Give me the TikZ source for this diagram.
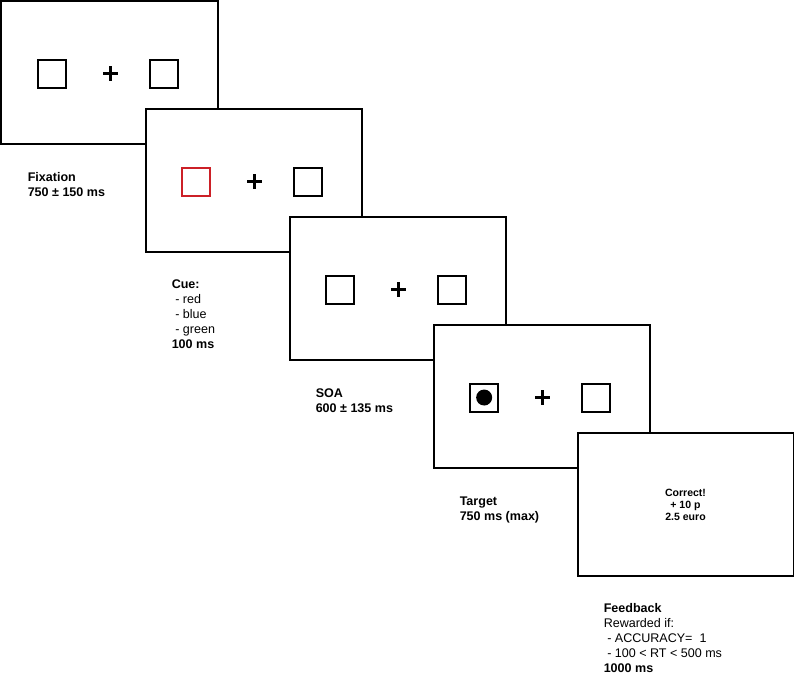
\documentclass[tikz,border=0pt]{standalone}
\usepackage{fontspec}
\setmainfont{Liberation Sans}
\usepackage{xcolor}
\usepackage{tikz}
\usetikzlibrary{positioning}

\definecolor{cuered}{RGB}{204,32,39}
\tikzset{
  screen/.style={draw,fill=white,line width=1.5pt,minimum width=162pt,minimum height=107.25pt,inner sep=0pt},
  box/.style={draw,line width=1.5pt,minimum size=21pt,inner sep=0pt},
  kreuz/.style={line width=2.5pt},
  phase/.style={anchor=base west,align=left,inner sep=0pt,font=\fontsize{9.4}{11.25}\selectfont},
}

\begin{document}
\begin{tikzpicture}[x=0.75pt,y=-0.75pt]
    \useasboundingbox (0,0) rectangle (794,673);
    % Bildschirme von links oben nach rechts unten,
    % jeder spaetere liegt ueber dem vorigen (weiss gefuellt)
    \foreach \i/\farbe in {1/black,2/cuered,3/black,4/black}{
      \node[screen] (s\i) at ({109.5+144*(\i-1)},{73+108*(\i-1)}) {};
      \node[box,draw=\farbe] (l\i) at ([xshift=-43pt,yshift=-0.4pt]s\i.center) {};
      \node[box] (r\i) at ([xshift=40.5pt,yshift=-0.4pt]s\i.center) {};
      \coordinate (c\i) at ([xshift=0.6pt,yshift=-0.4pt]s\i.center);
      \draw[kreuz] ([xshift=-5.4pt]c\i) -- ([xshift=5.4pt]c\i)
                   ([yshift=-5.4pt]c\i) -- ([yshift=5.4pt]c\i);
    }
    % Zielreiz im linken Kasten
    \fill (l4.center) circle (6pt);
    % Rueckmeldung
    \node[screen] (s5) at (685.5,505) {};
    \node[align=center,font=\fontsize{7.9}{9}\selectfont\bfseries] (fb) at (s5.center)
      {Correct!\\+ 10 p\\2.5 euro};

    % base = Grundlinie der letzten Zeile
    \node[phase] (t1) at ([xshift=20.25pt,yshift=-37.9pt]s1.south west)
      {\textbf{Fixation}\\\textbf{750 ± 150 ms}};
    \node[phase] (t2) at ([xshift=20.25pt,yshift=-71.6pt]s2.south west)
      {\textbf{Cue:}\\\hspace*{.28em}- red\\\hspace*{.28em}- blue\\\hspace*{.28em}- green\\\textbf{100 ms}};
    \node[phase] (t3) at ([xshift=20.25pt,yshift=-37.9pt]s3.south west)
      {\textbf{SOA}\\\textbf{600 ± 135 ms}};
    \node[phase] (t4) at ([xshift=20.25pt,yshift=-37.9pt]s4.south west)
      {\textbf{Target}\\\textbf{750 ms (max)}};
    \node[phase] (t5) at ([xshift=20.25pt,yshift=-71.6pt]s5.south west)
      {\textbf{Feedback}\\Rewarded if:\\\hspace*{.28em}- ACCURACY=\ \ 1\\\hspace*{.28em}- 100 < RT < 500 ms\\\textbf{1000 ms}};
\end{tikzpicture}
\end{document}
